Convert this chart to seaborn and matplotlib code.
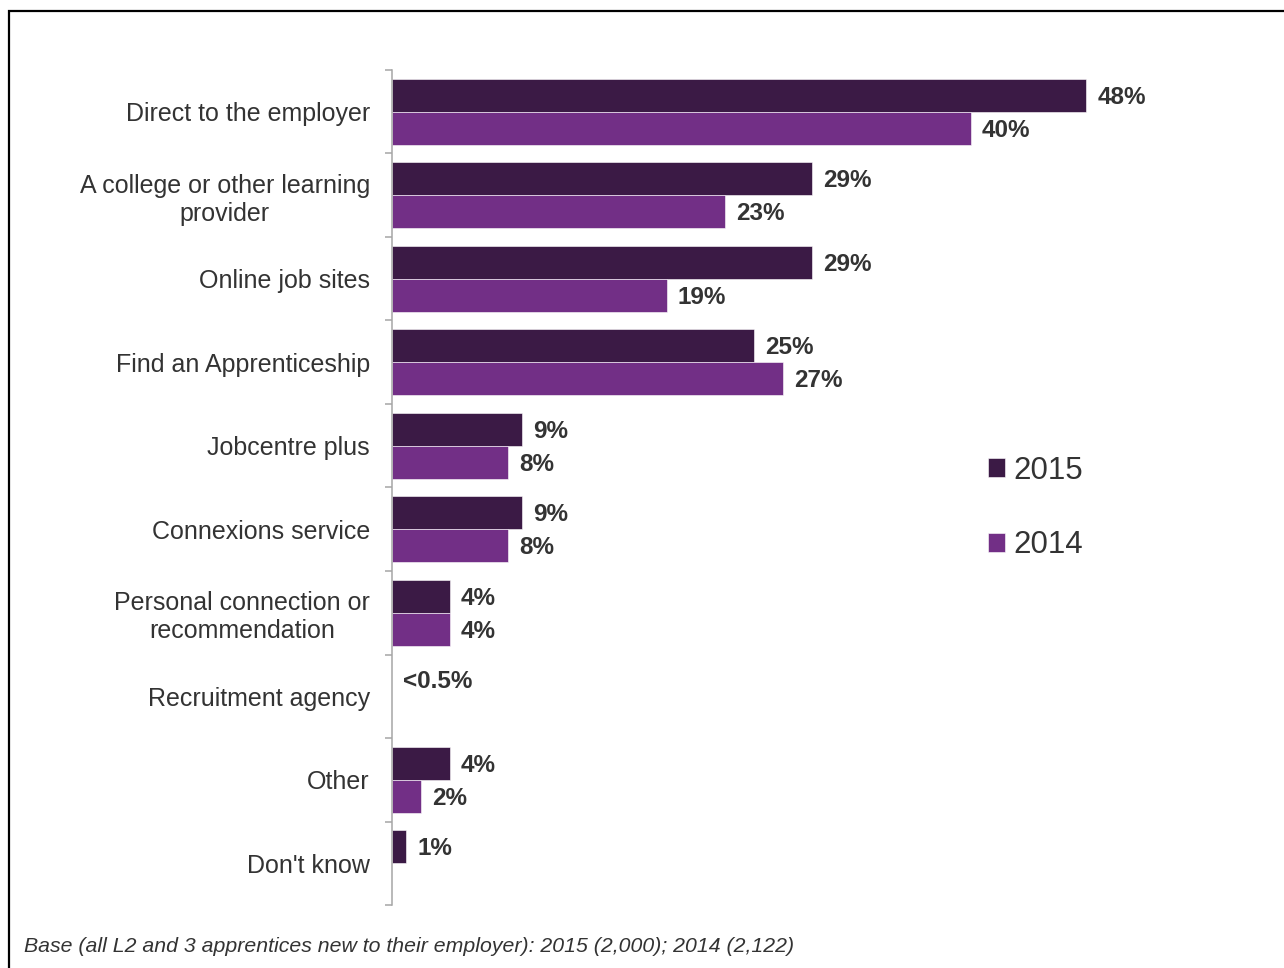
''' Sources used to find an apprenticeship, 2015 vs 2014. '''

import numpy as np
import pandas as pd
import seaborn as sb
import matplotlib.pyplot as plt
from matplotlib.patches import Rectangle

categories = ["Direct to the employer", "A college or other learning\nprovider", "Online job sites",
              "Find an Apprenticeship", "Jobcentre plus", "Connexions service",
              "Personal connection or\nrecommendation", "Recruitment agency", "Other", "Don't know"]
years = ["2015", "2014"]
values_2015 = [48, 29, 29, 25, 9, 9, 4, 0, 4, 1]
values_2014 = [40, 23, 19, 27, 8, 8, 4, 0, 2, 0]
labels_2015 = ["48%", "29%", "29%", "25%", "9%", "9%", "4%", "<0.5%", "4%", "1%"]
labels_2014 = ["40%", "23%", "19%", "27%", "8%", "8%", "4%", "", "2%", ""]
colors = ["#3B1A45", "#722F86"]
footnote = "Base (all L2 and 3 apprentices new to their employer): 2015 (2,000); 2014 (2,122)"

df = pd.DataFrame({
    "source": categories * 2,
    "pct": values_2015 + values_2014,
    "year": [years[0]] * len(categories) + [years[1]] * len(categories),
})

sb.set_style("white")
plt.rcParams['font.family'] = ['Liberation Sans', 'DejaVu Sans']
txt = "#333333"

fig = plt.figure(figsize=(12.84, 9.68), dpi=100)
ax = fig.add_axes([392 / 1284, 1 - 905 / 968, 868 / 1284, 835 / 968])

sb.barplot(data=df, x="pct", y="source", hue="year", order=categories, hue_order=years,
           palette=colors, width=0.79, orient="h", ax=ax, saturation=1,
           edgecolor="white", linewidth=0.4)

ax.set_xlim(0, 60)
ax.set_ylim(len(categories) - 0.5, -0.5)
ax.set_xlabel("")
ax.set_ylabel("")
ax.set_xticks([])
for s in ["top", "right", "bottom"]:
    ax.spines[s].set_visible(False)
ax.spines["left"].set_color("#A6A6A6")
ax.spines["left"].set_linewidth(1.1)

ax.set_yticks(range(len(categories)))
ax.set_yticklabels(categories, fontsize=18, color=txt, multialignment="center", linespacing=1.22)
ax.tick_params(axis="y", which="major", left=False, length=0, pad=16)
ax.set_yticks(np.arange(-0.5, len(categories)), minor=True)
ax.tick_params(axis="y", which="minor", left=True, length=5, width=1.1, color="#A6A6A6",
               direction="out")

for cont, labs in zip(ax.containers, [labels_2015, labels_2014]):
    for bar, lab in zip(cont, labs):
        if not lab:
            continue
        ax.annotate(lab, (bar.get_width(), bar.get_y() + bar.get_height() / 2),
                    xytext=(8, -1.5), textcoords="offset points", ha="left", va="center",
                    fontsize=17.5, fontweight="bold", color=txt)

handles, _ = ax.get_legend_handles_labels()
ax.legend(handles, years, loc="center left", bbox_to_anchor=(988 / 1284, 1 - 508 / 968),
          bbox_transform=fig.transFigure, frameon=False, fontsize=22.5, handlelength=0.55,
          handleheight=0.55, handletextpad=0.25, labelspacing=1.42, borderpad=0, borderaxespad=0,
          labelcolor=txt)

fig.text(24 / 1284, 1 - 946 / 968, footnote, fontsize=15.3, style="italic", color=txt,
         ha="left", va="center")

fig.add_artist(Rectangle((9 / 1284, -0.1), 1.2, 1.1 - 11 / 968, transform=fig.transFigure,
                         fill=False, edgecolor="black", linewidth=1.6, clip_on=False))

fig.savefig("out.png", dpi=100)
